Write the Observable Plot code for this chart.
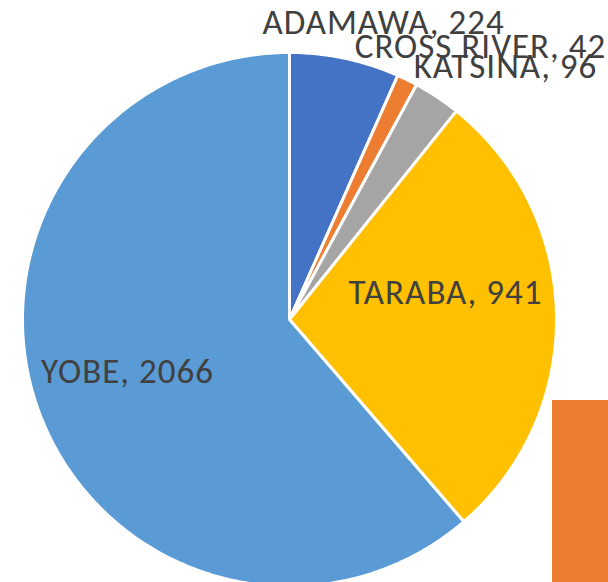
<!DOCTYPE html>
<html>
<head>
<meta charset="utf-8">
<script src="https://cdn.jsdelivr.net/npm/d3@7"></script>
<script src="https://cdn.jsdelivr.net/npm/@observablehq/plot@0.6"></script>
<style>
  html, body { margin: 0; padding: 0; background: #fff; overflow: hidden; }
  #chart svg { display: block; }
  #chart text { letter-spacing: 1px; }
</style>
</head>
<body>
<div id="chart"></div>
<script>
// Data
const states = ["ADAMAWA", "CROSS RIVER", "KATSINA", "TARABA", "YOBE"];
const counts = [224, 42, 96, 941, 2066];
const colors = ["#4472C4", "#ED7D31", "#A5A5A5", "#FFC000", "#5B9BD5"];

// Layout (pixels)
const W = 608, H = 582;
const cx = 289, cy = 319, R = 267;
// label anchor positions (pixel centres / text baselines)
const labelPos = {
  "ADAMAWA": [383, 33],
  "CROSS RIVER": [480, 57],
  "KATSINA": [505, 77],
  "TARABA": [445, 303],
  "YOBE": [127, 382]
};
// partially visible neighbouring bar (pixel box)
const sideBar = [{x1: 552, x2: 620, y1: 400, y2: 600}];

// Scales in units of pie radius
const xDomain = [-cx / R, (W - cx) / R];
const yDomain = [-(H - cy) / R, cy / R];
const px = (x) => (x - cx) / R;
const py = (y) => (cy - y) / R;

const data = states.map((s, i) => ({state: s, value: counts[i]}));
const arcs = d3.pie().sort(null).value(d => d.value)(data);

const polyPts = [];
for (const a of arcs) {
  const n = Math.max(4, Math.ceil((a.endAngle - a.startAngle) / 0.01));
  polyPts.push({state: a.data.state, x: 0, y: 0});
  for (let k = 0; k <= n; k++) {
    const t = a.startAngle + (a.endAngle - a.startAngle) * k / n;
    polyPts.push({state: a.data.state, x: Math.sin(t), y: Math.cos(t)});
  }
  polyPts.push({state: a.data.state, x: 0, y: 0});
}

const labels = data.map(d => ({
  text: `${d.state}, ${d.value}`,
  x: px(labelPos[d.state][0]),
  y: py(labelPos[d.state][1])
}));

const bars = sideBar.map(b => ({x1: px(b.x1), x2: px(b.x2), y1: py(b.y1), y2: py(b.y2)}));

const chart = Plot.plot({
  width: W,
  height: H,
  margin: 0,
  x: {domain: xDomain, range: [0, W], axis: null},
  y: {domain: yDomain, range: [H, 0], axis: null},
  color: {domain: states, range: colors},
  style: {fontFamily: "Carlito, Calibri, Lato, sans-serif", background: "#fff"},
  marks: [
    Plot.rect(bars, {x1: "x1", x2: "x2", y1: "y1", y2: "y2", fill: "#ED7D31"}),
    Plot.line(polyPts, {x: "x", y: "y", z: "state", fill: "state", stroke: "#fff", strokeWidth: 3, strokeLinejoin: "round", curve: "linear"}),
    Plot.text(labels, {x: "x", y: "y", text: "text", fill: "#404040", fontSize: 35, textAnchor: "middle", lineAnchor: "bottom"})
  ]
});
document.getElementById("chart").appendChild(chart);
</script>
</body>
</html>
